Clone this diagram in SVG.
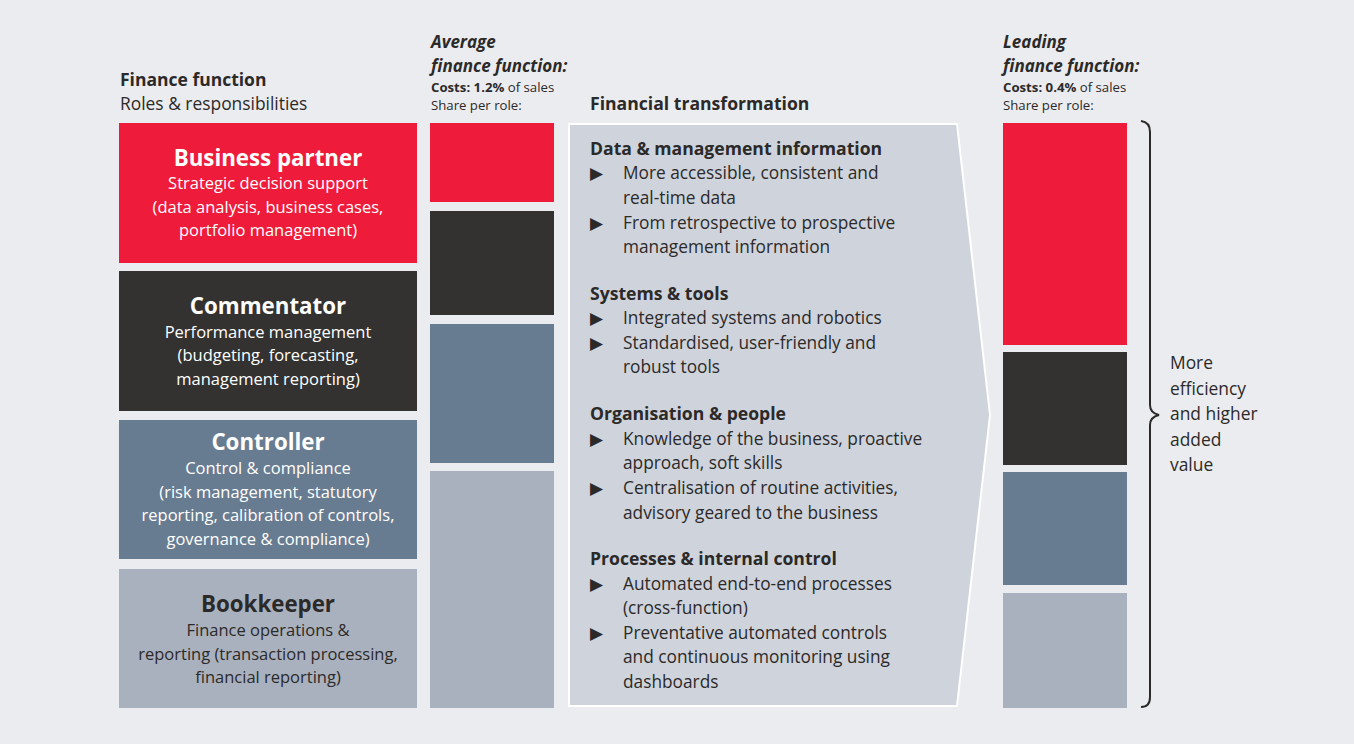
<svg xmlns="http://www.w3.org/2000/svg" width="1354" height="744" viewBox="0 0 1354 744">
<style>
text{font-family:"Open Sans",Lato,"Liberation Sans",sans-serif;fill:#2b2a29}
.hb{font-weight:bold;font-size:17.5px}
.h{font-size:17.4px}
.it{font-weight:bold;font-style:italic;font-size:17px}
.sm{font-size:13.2px}
.ttl{font-weight:bold;font-size:22.3px;fill:#fff;text-anchor:middle}
.sub{font-size:16.5px;fill:#fff;text-anchor:middle}
.sec{font-weight:bold;font-size:17.6px}
.bl{font-size:17.3px}
.red{fill:#ee1b3a}.dark{fill:#333230}.blue{fill:#687c91}.light{fill:#aab1be}
</style>
<rect width="1354" height="744" fill="#ebecf0"/>
<g id="headers">
<text class="hb" x="120" y="86">Finance function</text>
<text class="h" x="120" y="110">Roles &amp; responsibilities</text>
<text class="it" x="431" y="48">Average</text>
<text class="it" x="431" y="72">finance function:</text>
<text class="sm" x="431" y="92"><tspan font-weight="bold">Costs: 1.2%</tspan> of sales</text>
<text class="sm" x="431" y="110">Share per role:</text>
<text class="sec" x="590" y="110">Financial transformation</text>
<text class="it" x="1003" y="48">Leading</text>
<text class="it" x="1003" y="72">finance function:</text>
<text class="sm" x="1003" y="92"><tspan font-weight="bold">Costs: 0.4%</tspan> of sales</text>
<text class="sm" x="1003" y="110">Share per role:</text>
</g>
<g id="business-partner">
<rect class="red" x="119" y="123" width="298" height="140"/>
<text class="ttl" x="268" y="166">Business partner</text>
<text class="sub" x="268" y="189">Strategic decision support</text>
<text class="sub" x="268" y="213">(data analysis, business cases,</text>
<text class="sub" x="268" y="236">portfolio management)</text>
</g>
<g id="commentator">
<rect class="dark" x="119" y="271" width="298" height="140"/>
<text class="ttl" x="268" y="314">Commentator</text>
<text class="sub" x="268" y="338">Performance management</text>
<text class="sub" x="268" y="361">(budgeting, forecasting,</text>
<text class="sub" x="268" y="385">management reporting)</text>
</g>
<g id="controller">
<rect class="blue" x="119" y="420" width="298" height="139"/>
<text class="ttl" x="268" y="450">Controller</text>
<text class="sub" x="268" y="474">Control &amp; compliance</text>
<text class="sub" x="268" y="498">(risk management, statutory</text>
<text class="sub" x="268" y="521">reporting, calibration of controls,</text>
<text class="sub" x="268" y="545">governance &amp; compliance)</text>
</g>
<g id="bookkeeper">
<rect class="light" x="119" y="569" width="298" height="139"/>
<text class="ttl" x="268" y="612" style="fill:#2b2a29">Bookkeeper</text>
<text class="sub" x="268" y="636" style="fill:#2b2a29">Finance operations &amp;</text>
<text class="sub" x="268" y="660" style="fill:#2b2a29">reporting (transaction processing,</text>
<text class="sub" x="268" y="683" style="fill:#2b2a29">financial reporting)</text>
</g>
<g id="average-bars">
<rect class="red" x="430" y="123" width="124" height="79"/>
<rect class="dark" x="430" y="211" width="124" height="104"/>
<rect class="blue" x="430" y="324" width="124" height="139"/>
<rect class="light" x="430" y="471" width="124" height="237"/>
</g>
<g id="transformation">
<path d="M569,124 L957,124 L990,415 L957,706 L569,706 Z" fill="#cfd3dc" stroke="#fff" stroke-width="2"/>
<g>
<text class="sec" x="590" y="155">Data &amp; management information</text>
<text class="bl" x="590" y="179">▶</text><text class="bl" x="623" y="179">More accessible, consistent and</text>
<text class="bl" x="623" y="204">real-time data</text>
<text class="bl" x="590" y="229">▶</text><text class="bl" x="623" y="229">From retrospective to prospective</text>
<text class="bl" x="623" y="253">management information</text>
<text class="sec" x="590" y="300">Systems &amp; tools</text>
<text class="bl" x="590" y="324">▶</text><text class="bl" x="623" y="324">Integrated systems and robotics</text>
<text class="bl" x="590" y="349">▶</text><text class="bl" x="623" y="349">Standardised, user-friendly and</text>
<text class="bl" x="623" y="373">robust tools</text>
<text class="sec" x="590" y="420">Organisation &amp; people</text>
<text class="bl" x="590" y="445">▶</text><text class="bl" x="623" y="445">Knowledge of the business, proactive</text>
<text class="bl" x="623" y="469">approach, soft skills</text>
<text class="bl" x="590" y="494">▶</text><text class="bl" x="623" y="494">Centralisation of routine activities,</text>
<text class="bl" x="623" y="519">advisory geared to the business</text>
<text class="sec" x="590" y="565">Processes &amp; internal control</text>
<text class="bl" x="590" y="590">▶</text><text class="bl" x="623" y="590">Automated end-to-end processes</text>
<text class="bl" x="623" y="614">(cross-function)</text>
<text class="bl" x="590" y="639">▶</text><text class="bl" x="623" y="639">Preventative automated controls</text>
<text class="bl" x="623" y="663">and continuous monitoring using</text>
<text class="bl" x="623" y="688">dashboards</text>
</g>
</g>
<g id="leading-bars">
<rect class="red" x="1003" y="123" width="124" height="222"/>
<rect class="dark" x="1003" y="352" width="124" height="113"/>
<rect class="blue" x="1003" y="472" width="124" height="113"/>
<rect class="light" x="1003" y="593" width="124" height="115"/>
</g>
<g id="brace">
<path d="M1141,121 Q1150,122 1150,132 L1150,405 Q1150,413 1159,415 Q1150,417 1150,425 L1150,697 Q1150,707 1141,707" fill="none" stroke="#2b2a29" stroke-width="2"/>
<text class="h" x="1170" y="369">More</text>
<text class="h" x="1170" y="395">efficiency</text>
<text class="h" x="1170" y="420">and higher</text>
<text class="h" x="1170" y="446">added</text>
<text class="h" x="1170" y="471">value</text>
</g>
</svg>
